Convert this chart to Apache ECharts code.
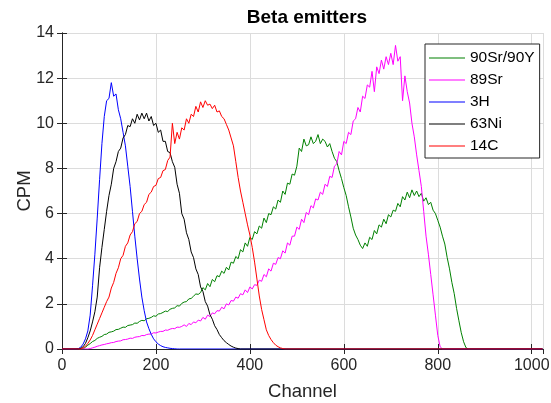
<!DOCTYPE html>
<html>
<head>
<meta charset="utf-8">
<script src="https://cdn.jsdelivr.net/npm/echarts@6/dist/echarts.min.js"></script>
<style>
html,body{margin:0;padding:0;background:#fff;}
#chart{width:551px;height:403px;}
</style>
</head>
<body>
<div id="chart"></div>
<script>
// ---- data (CPM per channel, sampled every 5 channels) ----
const seriesNames = ['90Sr/90Y', '89Sr', '3H', '63Ni', '14C'];
const xTicks = [0, 200, 400, 600, 800, 1000];
const yTicks = [0, 2, 4, 6, 8, 10, 12, 14];
const channelStep = 5;
const firstChannel = 0;
const lastChannel = 1023;

const sr90yStart = 45;
const sr90y = [
0,0.08,0.17,0.24,0.33,0.38,0.47,0.52,0.56,0.64,0.66,0.74,0.76,0.79,0.86,0.87,0.92,0.97,0.96,1.04,
1.06,1.08,1.15,1.14,1.22,1.27,1.25,1.34,1.36,1.4,1.47,1.45,1.55,1.57,1.62,1.68,1.66,1.76,1.8,1.82,
1.92,1.9,2.02,2.08,2.1,2.22,2.24,2.34,2.44,2.42,2.5,2.72,2.62,2.9,2.76,3.08,2.98,3.25,3.2,3.45,
3.35,3.62,3.5,3.85,3.8,4.1,4.0,4.4,4.3,4.7,4.55,4.95,4.85,5.2,5.1,5.45,5.35,5.8,5.6,6.0,
5.95,6.3,6.2,6.6,6.5,7.0,6.85,7.35,7.3,7.75,7.7,8.1,8.9,8.75,9.3,9.0,9.05,9.4,9.1,9.2,
9.5,9.1,9.3,9.2,8.95,9.1,8.75,8.45,8.3,7.9,7.55,7.15,6.8,6.3,5.85,5.35,5.05,4.85,4.6,4.45,
4.7,4.55,4.95,4.85,5.25,5.1,5.5,5.4,5.75,5.55,5.95,5.85,6.15,6.1,6.45,6.3,6.75,6.6,6.95,6.7,
7.05,6.8,7.0,6.75,6.9,6.55,6.7,6.4,6.5,6.15,6.0,5.7,5.4,5.0,4.65,4.05,3.55,2.95,2.45,1.8,
1.25,0.72,0.32,0.06,0];

const sr89Start = 55;
const sr89 = [
0,0.02,0.05,0.08,0.12,0.15,0.18,0.2,0.23,0.25,0.28,0.29,0.33,0.35,0.36,0.41,0.42,0.44,0.48,0.47,
0.52,0.54,0.55,0.6,0.59,0.64,0.66,0.66,0.72,0.71,0.75,0.78,0.78,0.84,0.83,0.88,0.91,0.9,0.97,0.96,
1.0,1.07,1.0,1.13,1.08,1.2,1.16,1.28,1.24,1.4,1.32,1.5,1.44,1.6,1.56,1.7,1.68,1.85,1.78,2.0,
1.95,2.15,2.12,2.3,2.25,2.45,2.4,2.62,2.5,2.75,2.66,2.85,2.82,3.05,3.0,3.3,3.2,3.55,3.45,3.8,
3.75,4.05,4.0,4.35,4.25,4.7,4.6,5.0,5.0,5.4,5.3,5.75,5.6,6.05,5.95,6.35,6.25,6.65,6.6,6.95,
6.85,7.3,7.2,7.65,7.6,8.1,8.2,8.75,8.6,9.2,9.1,9.6,9.5,10.1,10.2,10.7,10.5,11.2,11.1,11.7,
11.6,12.3,11.4,12.5,12.2,12.8,12.4,12.95,12.6,13.1,12.6,13.45,12.75,12.95,11.0,12.1,11.4,10.9,10.0,9.4,
8.6,7.9,7.2,6.1,5.0,4.2,3.3,2.4,1.5,0.6,0.1,0];

const h3Start = 30;
const h3 = [
0,0.02,0.08,0.22,0.45,0.8,1.5,2.8,4.2,5.8,7.5,9.1,10.3,11.0,11.1,11.8,11.2,11.3,10.6,10.2,
9.6,9.0,8.1,7.2,6.1,5.0,4.0,3.1,2.3,1.7,1.2,0.9,0.65,0.45,0.32,0.22,0.15,0.1,0.07,0.05,
0.03,0.02,0.01,0,0];

const ni63Start = 35;
const ni63 = [
0,0.03,0.1,0.25,0.5,0.8,1.2,1.65,2.3,3.6,4.5,5.3,6.1,6.8,7.3,8.0,8.3,8.75,8.9,9.35,
9.5,9.9,9.85,10.2,10.0,10.4,10.15,10.45,10.2,10.45,10.1,10.3,9.9,10.0,9.6,9.7,9.2,9.2,8.75,8.7,
8.3,8.05,7.3,6.9,6.0,5.75,5.15,4.85,4.3,4.05,3.55,3.3,2.75,2.55,2.1,1.9,1.52,1.32,1.03,0.86,
0.64,0.5,0.37,0.28,0.2,0.13,0.08,0.04,0.02,0];

const c14Start = 40;
const c14 = [
0,0.05,0.12,0.25,0.4,0.6,0.85,1.1,1.35,1.6,1.85,2.1,2.3,2.7,2.95,3.35,3.6,4.0,4.15,4.55,
4.7,5.05,5.2,5.55,5.65,6.0,6.1,6.4,6.5,6.85,6.95,7.2,7.25,7.55,7.6,7.9,7.95,8.35,8.5,10.0,
9.1,9.6,9.3,9.8,9.7,10.2,10.0,10.4,10.3,10.75,10.5,10.95,10.7,11.0,10.8,10.85,10.65,10.8,10.5,10.55,
10.3,10.2,9.95,9.7,9.35,9.0,8.3,7.6,7.0,6.5,6.0,5.5,5.05,4.5,3.85,3.1,2.35,1.75,1.3,0.85,
0.6,0.42,0.28,0.17,0.1,0.05,0.02,0,0];

const colors = ['#008000', '#ff00ff', '#0000ff', '#000000', '#ff0000'];

function build(start, values) {
  const pts = [[firstChannel, 0]];
  values.forEach((v, i) => pts.push([start + i * channelStep, v]));
  pts.push([lastChannel, 0]);
  return pts;
}
const allData = [
  build(sr90yStart, sr90y),
  build(sr89Start, sr89),
  build(h3Start, h3),
  build(ni63Start, ni63),
  build(c14Start, c14)
];

const FONT = "'Liberation Sans', Arial, Helvetica, sans-serif";
const axisColor = '#262626';
const gridColor = '#dcdcdc';

const chart = echarts.init(document.getElementById('chart'), null, {renderer: 'canvas'});
const xMax = 1024;
const yMax = 14;

function fmtX(v) { return xTicks.indexOf(v) >= 0 ? String(v) : ''; }

chart.setOption({
  animation: false,
  backgroundColor: '#ffffff',
  title: {
    text: 'Beta emitters',
    left: 302, top: 3, textAlign: 'center',
    textStyle: {fontFamily: FONT, fontSize: 19, fontWeight: 'bold', color: '#000'}
  },
  grid: {left: 62, right: 8, top: 33, bottom: 54, containLabel: false, outerBoundsMode: 'none'},
  legend: {
    orient: 'vertical',
    left: 425, top: 44,
    padding: [6, 5, 4, 4],
    itemWidth: 36, itemHeight: 14, itemGap: 6,
    backgroundColor: '#fff',
    borderColor: axisColor, borderWidth: 1, borderRadius: 0,
    icon: 'path://M0,0 L38,0 L38,1 L0,1 Z',
    symbolKeepAspect: true,
    textStyle: {fontFamily: FONT, fontSize: 15.5, color: '#000'},
    data: seriesNames
  },
  xAxis: [{
    type: 'value', min: 0, max: xMax, interval: 200, position: 'bottom',
    name: 'Channel', nameLocation: 'middle', nameGap: 33, nameMoveOverlap: false,
    nameTextStyle: {fontFamily: FONT, fontSize: 18.5, color: axisColor},
    axisLine: {show: true, lineStyle: {color: axisColor, width: 1}},
    axisTick: {show: true, inside: true, length: 5, lineStyle: {color: axisColor}},
    axisLabel: {fontFamily: FONT, fontSize: 16, color: axisColor, margin: 9, formatter: fmtX, showMaxLabel: false},
    splitLine: {show: true, lineStyle: {color: gridColor, width: 1}}
  }, {
    type: 'value', min: 0, max: xMax, interval: 200, position: 'top',
    axisLine: {show: true, lineStyle: {color: axisColor, width: 1}},
    axisTick: {show: true, inside: true, length: 5, lineStyle: {color: axisColor}},
    axisLabel: {show: false},
    splitLine: {show: false}
  }],
  yAxis: [{
    type: 'value', min: 0, max: yMax, interval: 2, position: 'left',
    name: 'CPM', nameLocation: 'middle', nameGap: 28, nameRotate: 90, nameMoveOverlap: false,
    nameTextStyle: {fontFamily: FONT, fontSize: 18.5, color: axisColor},
    axisLine: {show: true, lineStyle: {color: axisColor, width: 1}},
    axisTick: {show: true, inside: true, length: 5, lineStyle: {color: axisColor}},
    axisLabel: {fontFamily: FONT, fontSize: 16, color: axisColor, margin: 8,
      formatter: v => (yTicks.indexOf(v) >= 0 ? String(v) : '')},
    splitLine: {show: true, lineStyle: {color: gridColor, width: 1}}
  }, {
    type: 'value', min: 0, max: yMax, interval: 2, position: 'right',
    axisLine: {show: true, lineStyle: {color: axisColor, width: 1}},
    axisTick: {show: true, inside: true, length: 5, lineStyle: {color: axisColor}},
    axisLabel: {show: false},
    splitLine: {show: false}
  }],
  series: seriesNames.map((name, i) => ({
    name: name,
    type: 'line',
    xAxisIndex: 0, yAxisIndex: 0,
    data: allData[i],
    showSymbol: false,
    symbol: 'none',
    color: colors[i],
    lineStyle: {color: colors[i], width: 1},
    itemStyle: {color: colors[i]},
    emphasis: {disabled: true},
    clip: true,
    z: 2 + i
  }))
});
</script>
</body>
</html>
